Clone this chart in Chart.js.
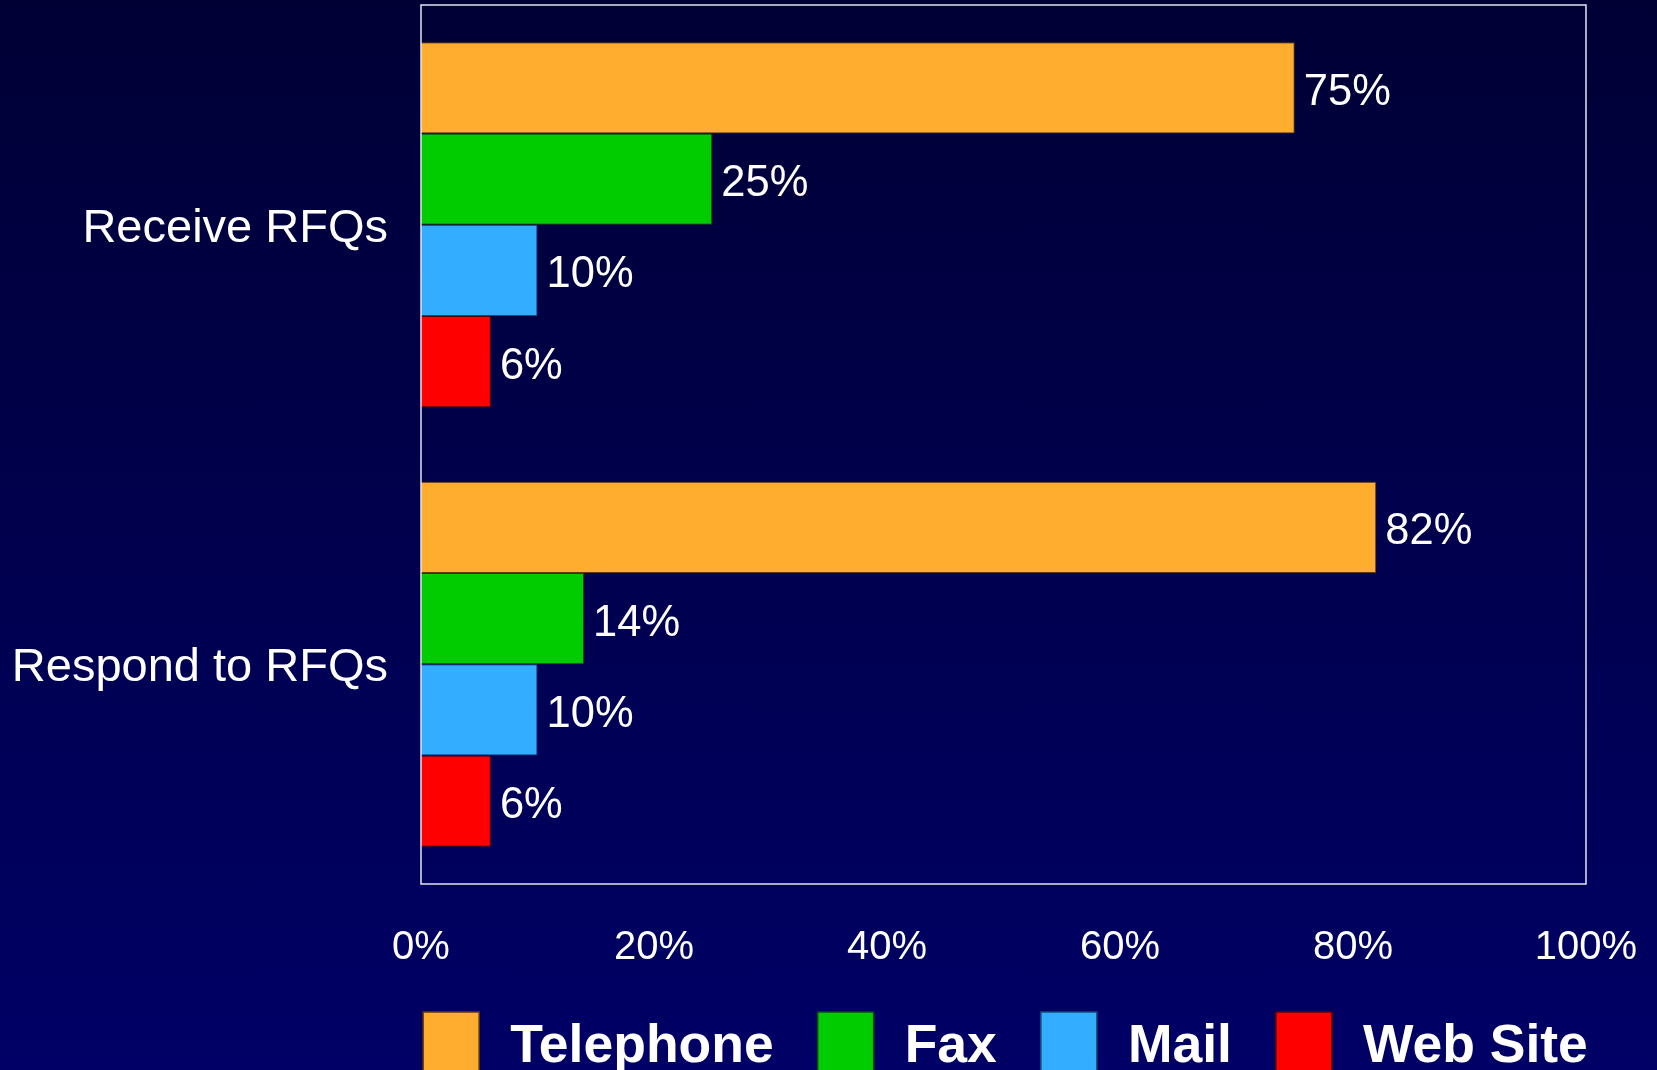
<!DOCTYPE html>
<html>
<head>
<meta charset="utf-8">
<script src="https://cdn.jsdelivr.net/npm/chart.js@4.4.1/dist/chart.umd.min.js"></script>
<style>
  html, body { margin: 0; padding: 0; overflow: hidden; }
  #wrap {
    width: 1657px; height: 1070px; position: relative;
    background: linear-gradient(to bottom, #000035 0%, #000066 100%);
  }
</style>
</head>
<body>
<div id="wrap"><canvas id="rfqChart"></canvas></div>
<script>
const categories = ['Receive RFQs', 'Respond to RFQs'];
const seriesNames = ['Telephone', 'Fax', 'Mail', 'Web Site'];
const telephone = [75, 82];
const fax = [25, 14];
const mail = [10, 10];
const webSite = [6, 6];
const xTicks = [0, 20, 40, 60, 80, 100];

const fillColors = ['#ffad2f', '#00cc00', '#33adff', '#ff0000'];
const edgeColors = ['#5e3d08', '#0b4a0b', '#174a78', '#5a0000'];
const FONT = '"Liberation Sans", Arial, sans-serif';

const seriesValues = [telephone, fax, mail, webSite];

// value labels to the right of each bar
const valueLabels = {
    id: 'valueLabels',
    afterDatasetsDraw(chart) {
        const ctx = chart.ctx;
        ctx.save();
        ctx.fillStyle = '#ffffff';
        ctx.font = '43.5px ' + FONT;
        ctx.textAlign = 'left';
        ctx.textBaseline = 'middle';
        chart.data.datasets.forEach((ds, i) => {
            chart.getDatasetMeta(i).data.forEach((bar, j) => {
                ctx.fillText(ds.data[j] + '%', bar.x + 9, bar.y + 5);
            });
        });
        ctx.restore();
    }
};

// white frame round the plot area
const plotFrame = {
    id: 'plotFrame',
    afterDatasetsDraw(chart) {
        const a = chart.chartArea;
        const ctx = chart.ctx;
        ctx.save();
        ctx.strokeStyle = '#e4e4f0';
        ctx.lineWidth = 1.5;
        ctx.strokeRect(a.left, a.top, a.right - a.left, a.bottom - a.top);
        ctx.restore();
    }
};

// one-row legend under the axis, centred on the plot
const bottomLegend = {
    id: 'bottomLegend',
    afterDraw(chart) {
        const ctx = chart.ctx;
        const a = chart.chartArea;
        const boxW = 56, boxH = 63, textGap = 31, itemGap = 44, top = 1012;
        ctx.save();
        ctx.font = 'bold 53.5px ' + FONT;
        const items = chart.data.datasets.map(ds => ({
            ds, w: ctx.measureText(ds.label).width
        }));
        let total = items.reduce((s, it) => s + boxW + textGap + it.w, 0) + itemGap * (items.length - 1);
        let x = (a.left + a.right) / 2 + 2 - total / 2;
        items.forEach(it => {
            ctx.fillStyle = it.ds.backgroundColor;
            ctx.strokeStyle = it.ds.borderColor;
            ctx.lineWidth = 1.5;
            ctx.fillRect(x, top, boxW, boxH);
            ctx.strokeRect(x, top, boxW, boxH);
            ctx.fillStyle = '#ffffff';
            ctx.textAlign = 'left';
            ctx.textBaseline = 'alphabetic';
            ctx.fillText(it.ds.label, x + boxW + textGap, 1062);
            x += boxW + textGap + it.w + itemGap;
        });
        ctx.restore();
    }
};

new Chart(document.getElementById('rfqChart'), {
    type: 'bar',
    plugins: [valueLabels, plotFrame, bottomLegend],
    data: {
        labels: categories,
        datasets: seriesNames.map((name, i) => ({
            label: name,
            data: seriesValues[i],
            backgroundColor: fillColors[i],
            borderColor: edgeColors[i],
            borderWidth: 1,
            categoryPercentage: 0.83,
            barPercentage: 1
        }))
    },
    options: {
        indexAxis: 'y',
        responsive: true,
        maintainAspectRatio: false,
        animation: false,
        layout: { padding: { left: 0, right: 71, top: 5, bottom: 102 } },
        scales: {
            x: {
                min: 0,
                max: 100,
                afterBuildTicks(scale) {
                    scale.ticks = xTicks.map(v => ({ value: v }));
                },
                afterFit(scale) {
                    scale.height = 84;
                    scale.paddingLeft = 0;
                    scale.paddingRight = 0;
                },
                grid: { display: false, drawTicks: false },
                border: { display: false },
                ticks: {
                    color: '#ffffff',
                    font: { family: FONT, size: 40 },
                    padding: 40,
                    maxRotation: 0,
                    callback: v => v + '%'
                }
            },
            y: {
                afterFit(scale) {
                    scale.width = 421;
                    scale.paddingTop = 0;
                    scale.paddingBottom = 0;
                },
                grid: { display: false, drawTicks: false },
                border: { display: false },
                ticks: {
                    color: '#ffffff',
                    font: { family: FONT, size: 47 },
                    padding: 33,
                    labelOffset: 4
                }
            }
        },
        plugins: {
            legend: { display: false },
            tooltip: { enabled: false }
        }
    }
});
</script>
</body>
</html>
